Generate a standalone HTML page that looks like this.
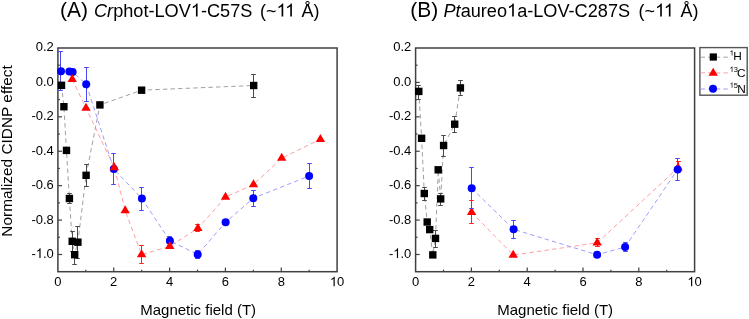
<!DOCTYPE html>
<html><head><meta charset="utf-8"><style>
html,body{margin:0;padding:0;background:#fff;}
svg{display:block;will-change:transform;}
text{font-family:"Liberation Sans", sans-serif;}
.o{fill-opacity:0;}
</style></head><body>
<svg width="749" height="319" viewBox="0 0 749 319" font-family='"Liberation Sans", sans-serif' fill="#000">
<rect width="749" height="319" fill="#fff"/>
<text y="16.9" font-size="21" x="60.00">(</text>
<text y="16.9" font-size="21" x="66.99" transform="translate(0 16.9) scale(1 1.035) translate(0 -16.9)">A</text>
<text y="16.9" font-size="21" x="81.00">)</text>
<text y="16.5" font-size="18.15" x="94.0"><tspan font-style="italic">Cr</tspan>phot-LOV<tspan class="o">1</tspan>-C57S</text>
<text y="16.5" font-size="18" x="260">(~<tspan class="o">11</tspan></text>
<text y="16.5" font-size="18" x="301.4">Å)</text>
<text y="16.9" font-size="21" x="410.20">(</text>
<text y="16.9" font-size="21" x="417.19" transform="translate(0 16.9) scale(1 1.035) translate(0 -16.9)">B</text>
<text y="16.9" font-size="21" x="431.20">)</text>
<text y="16.5" font-size="18.15" x="443.5"><tspan font-style="italic">Pt</tspan>aureo<tspan class="o">1</tspan>a-LOV-C287S</text>
<text y="16.5" font-size="18" x="638.6">(~<tspan class="o">11</tspan></text>
<text y="16.5" font-size="18" x="680.4">Å)</text>
<text transform="translate(11.6,151.0) rotate(-90)" font-size="15.4" text-anchor="middle">Normalized CIDNP effect</text>
<text x="198.2" y="314.8" font-size="15" text-anchor="middle">Magnetic field (T)</text>
<text x="555.2" y="314.8" font-size="15" text-anchor="middle">Magnetic field (T)</text>
<rect x="57.9" y="48.0" width="279.20" height="223.70" fill="none" stroke="#404040" stroke-width="1.5"/>
<line x1="57.9" y1="65.21" x2="59.90" y2="65.21" stroke="#404040" stroke-width="1.2"/>
<line x1="57.9" y1="82.42" x2="62.00" y2="82.42" stroke="#404040" stroke-width="1.2"/>
<line x1="57.9" y1="99.62" x2="59.90" y2="99.62" stroke="#404040" stroke-width="1.2"/>
<line x1="57.9" y1="116.83" x2="62.00" y2="116.83" stroke="#404040" stroke-width="1.2"/>
<line x1="57.9" y1="134.04" x2="59.90" y2="134.04" stroke="#404040" stroke-width="1.2"/>
<line x1="57.9" y1="151.25" x2="62.00" y2="151.25" stroke="#404040" stroke-width="1.2"/>
<line x1="57.9" y1="168.45" x2="59.90" y2="168.45" stroke="#404040" stroke-width="1.2"/>
<line x1="57.9" y1="185.66" x2="62.00" y2="185.66" stroke="#404040" stroke-width="1.2"/>
<line x1="57.9" y1="202.87" x2="59.90" y2="202.87" stroke="#404040" stroke-width="1.2"/>
<line x1="57.9" y1="220.08" x2="62.00" y2="220.08" stroke="#404040" stroke-width="1.2"/>
<line x1="57.9" y1="237.28" x2="59.90" y2="237.28" stroke="#404040" stroke-width="1.2"/>
<line x1="57.9" y1="254.49" x2="62.00" y2="254.49" stroke="#404040" stroke-width="1.2"/>
<text x="53.8" y="51.50" font-size="13" text-anchor="end" transform="translate(0 51.50) scale(1 1.035) translate(0 -51.50)">0.2</text>
<text x="53.8" y="85.92" font-size="13" text-anchor="end" transform="translate(0 85.92) scale(1 1.035) translate(0 -85.92)">0.0</text>
<text x="53.8" y="120.33" font-size="13" text-anchor="end" transform="translate(0 120.33) scale(1 1.035) translate(0 -120.33)">-0.2</text>
<text x="53.8" y="154.75" font-size="13" text-anchor="end" transform="translate(0 154.75) scale(1 1.035) translate(0 -154.75)">-0.4</text>
<text x="53.8" y="189.16" font-size="13" text-anchor="end" transform="translate(0 189.16) scale(1 1.035) translate(0 -189.16)">-0.6</text>
<text x="53.8" y="223.58" font-size="13" text-anchor="end" transform="translate(0 223.58) scale(1 1.035) translate(0 -223.58)">-0.8</text>
<text x="53.8" y="257.99" font-size="13" text-anchor="end" transform="translate(0 257.99) scale(1 1.035) translate(0 -257.99)">-<tspan class="o">1</tspan>.0</text>
<line x1="85.82" y1="271.7" x2="85.82" y2="269.70" stroke="#404040" stroke-width="1.2"/>
<line x1="113.74" y1="271.7" x2="113.74" y2="267.60" stroke="#404040" stroke-width="1.2"/>
<line x1="141.66" y1="271.7" x2="141.66" y2="269.70" stroke="#404040" stroke-width="1.2"/>
<line x1="169.58" y1="271.7" x2="169.58" y2="267.60" stroke="#404040" stroke-width="1.2"/>
<line x1="197.50" y1="271.7" x2="197.50" y2="269.70" stroke="#404040" stroke-width="1.2"/>
<line x1="225.42" y1="271.7" x2="225.42" y2="267.60" stroke="#404040" stroke-width="1.2"/>
<line x1="253.34" y1="271.7" x2="253.34" y2="269.70" stroke="#404040" stroke-width="1.2"/>
<line x1="281.26" y1="271.7" x2="281.26" y2="267.60" stroke="#404040" stroke-width="1.2"/>
<line x1="309.18" y1="271.7" x2="309.18" y2="269.70" stroke="#404040" stroke-width="1.2"/>
<text x="57.90" y="286.3" font-size="13" text-anchor="middle" transform="translate(0 286.3) scale(1 1.035) translate(0 -286.3)">0</text>
<text x="113.74" y="286.3" font-size="13" text-anchor="middle" transform="translate(0 286.3) scale(1 1.035) translate(0 -286.3)">2</text>
<text x="169.58" y="286.3" font-size="13" text-anchor="middle" transform="translate(0 286.3) scale(1 1.035) translate(0 -286.3)">4</text>
<text x="225.42" y="286.3" font-size="13" text-anchor="middle" transform="translate(0 286.3) scale(1 1.035) translate(0 -286.3)">6</text>
<text x="281.26" y="286.3" font-size="13" text-anchor="middle" transform="translate(0 286.3) scale(1 1.035) translate(0 -286.3)">8</text>
<text x="337.10" y="286.3" font-size="13" text-anchor="middle" transform="translate(0 286.3) scale(1 1.035) translate(0 -286.3)"><tspan class="o">1</tspan>0</text>
<rect x="415.6" y="48.0" width="279.00" height="223.70" fill="none" stroke="#404040" stroke-width="1.5"/>
<line x1="415.6" y1="65.21" x2="417.60" y2="65.21" stroke="#404040" stroke-width="1.2"/>
<line x1="415.6" y1="82.42" x2="419.70" y2="82.42" stroke="#404040" stroke-width="1.2"/>
<line x1="415.6" y1="99.62" x2="417.60" y2="99.62" stroke="#404040" stroke-width="1.2"/>
<line x1="415.6" y1="116.83" x2="419.70" y2="116.83" stroke="#404040" stroke-width="1.2"/>
<line x1="415.6" y1="134.04" x2="417.60" y2="134.04" stroke="#404040" stroke-width="1.2"/>
<line x1="415.6" y1="151.25" x2="419.70" y2="151.25" stroke="#404040" stroke-width="1.2"/>
<line x1="415.6" y1="168.45" x2="417.60" y2="168.45" stroke="#404040" stroke-width="1.2"/>
<line x1="415.6" y1="185.66" x2="419.70" y2="185.66" stroke="#404040" stroke-width="1.2"/>
<line x1="415.6" y1="202.87" x2="417.60" y2="202.87" stroke="#404040" stroke-width="1.2"/>
<line x1="415.6" y1="220.08" x2="419.70" y2="220.08" stroke="#404040" stroke-width="1.2"/>
<line x1="415.6" y1="237.28" x2="417.60" y2="237.28" stroke="#404040" stroke-width="1.2"/>
<line x1="415.6" y1="254.49" x2="419.70" y2="254.49" stroke="#404040" stroke-width="1.2"/>
<text x="411.3" y="51.50" font-size="13" text-anchor="end" transform="translate(0 51.50) scale(1 1.035) translate(0 -51.50)">0.2</text>
<text x="411.3" y="85.92" font-size="13" text-anchor="end" transform="translate(0 85.92) scale(1 1.035) translate(0 -85.92)">0.0</text>
<text x="411.3" y="120.33" font-size="13" text-anchor="end" transform="translate(0 120.33) scale(1 1.035) translate(0 -120.33)">-0.2</text>
<text x="411.3" y="154.75" font-size="13" text-anchor="end" transform="translate(0 154.75) scale(1 1.035) translate(0 -154.75)">-0.4</text>
<text x="411.3" y="189.16" font-size="13" text-anchor="end" transform="translate(0 189.16) scale(1 1.035) translate(0 -189.16)">-0.6</text>
<text x="411.3" y="223.58" font-size="13" text-anchor="end" transform="translate(0 223.58) scale(1 1.035) translate(0 -223.58)">-0.8</text>
<text x="411.3" y="257.99" font-size="13" text-anchor="end" transform="translate(0 257.99) scale(1 1.035) translate(0 -257.99)">-<tspan class="o">1</tspan>.0</text>
<line x1="443.50" y1="271.7" x2="443.50" y2="269.70" stroke="#404040" stroke-width="1.2"/>
<line x1="471.40" y1="271.7" x2="471.40" y2="267.60" stroke="#404040" stroke-width="1.2"/>
<line x1="499.30" y1="271.7" x2="499.30" y2="269.70" stroke="#404040" stroke-width="1.2"/>
<line x1="527.20" y1="271.7" x2="527.20" y2="267.60" stroke="#404040" stroke-width="1.2"/>
<line x1="555.10" y1="271.7" x2="555.10" y2="269.70" stroke="#404040" stroke-width="1.2"/>
<line x1="583.00" y1="271.7" x2="583.00" y2="267.60" stroke="#404040" stroke-width="1.2"/>
<line x1="610.90" y1="271.7" x2="610.90" y2="269.70" stroke="#404040" stroke-width="1.2"/>
<line x1="638.80" y1="271.7" x2="638.80" y2="267.60" stroke="#404040" stroke-width="1.2"/>
<line x1="666.70" y1="271.7" x2="666.70" y2="269.70" stroke="#404040" stroke-width="1.2"/>
<text x="415.60" y="286.3" font-size="13" text-anchor="middle" transform="translate(0 286.3) scale(1 1.035) translate(0 -286.3)">0</text>
<text x="471.40" y="286.3" font-size="13" text-anchor="middle" transform="translate(0 286.3) scale(1 1.035) translate(0 -286.3)">2</text>
<text x="527.20" y="286.3" font-size="13" text-anchor="middle" transform="translate(0 286.3) scale(1 1.035) translate(0 -286.3)">4</text>
<text x="583.00" y="286.3" font-size="13" text-anchor="middle" transform="translate(0 286.3) scale(1 1.035) translate(0 -286.3)">6</text>
<text x="638.80" y="286.3" font-size="13" text-anchor="middle" transform="translate(0 286.3) scale(1 1.035) translate(0 -286.3)">8</text>
<text x="694.60" y="286.3" font-size="13" text-anchor="middle" transform="translate(0 286.3) scale(1 1.035) translate(0 -286.3)"><tspan class="o">1</tspan>0</text>
<polyline points="61.50,85.30 63.90,106.70 66.50,150.40 69.40,198.50 72.20,241.30 74.70,254.70 77.90,242.20 86.10,175.30 99.90,104.90 141.60,90.20 253.70,85.50" fill="none" stroke="#a0a0a0" stroke-width="1" stroke-dasharray="4.4 3.2"/>
<polyline points="72.20,79.30 86.00,108.00 114.30,167.50 125.20,210.50 141.60,254.50 169.80,246.40 197.90,228.30 225.50,197.20 253.50,184.50 281.70,158.20 320.40,139.30" fill="none" stroke="#ff9e9e" stroke-width="1" stroke-dasharray="4.4 3.2"/>
<polyline points="61.00,71.30 69.40,71.50 72.60,72.00 86.20,84.20 113.80,169.00 141.90,198.60 169.90,240.80 197.70,254.40 225.60,222.30 253.30,198.20 309.10,176.00" fill="none" stroke="#9e9eff" stroke-width="1" stroke-dasharray="4.4 3.2"/>
<path d="M60.5 51.5V90.5M58.20 51.5H62.80M58.20 90.5H62.80" stroke="#4848f4" stroke-width="1.0" fill="none"/>
<path d="M86.5 67.5V101.5M84.20 67.5H88.80M84.20 101.5H88.80" stroke="#4848f4" stroke-width="1.0" fill="none"/>
<path d="M113.5 153.5V184.5M111.20 153.5H115.80M111.20 184.5H115.80" stroke="#4848f4" stroke-width="1.0" fill="none"/>
<path d="M141.5 187.5V210.5M139.20 187.5H143.80M139.20 210.5H143.80" stroke="#4848f4" stroke-width="1.0" fill="none"/>
<path d="M169.5 236.5V245.5M167.20 236.5H171.80M167.20 245.5H171.80" stroke="#4848f4" stroke-width="1.0" fill="none"/>
<path d="M197.5 250.5V258.5M195.20 250.5H199.80M195.20 258.5H199.80" stroke="#4848f4" stroke-width="1.0" fill="none"/>
<path d="M253.5 190.5V206.5M251.20 190.5H255.80M251.20 206.5H255.80" stroke="#4848f4" stroke-width="1.0" fill="none"/>
<path d="M309.5 163.5V188.5M307.20 163.5H311.80M307.20 188.5H311.80" stroke="#4848f4" stroke-width="1.0" fill="none"/>
<circle cx="61.00" cy="71.30" r="4.0" fill="#0000ff"/>
<circle cx="69.40" cy="71.50" r="4.0" fill="#0000ff"/>
<circle cx="72.60" cy="72.00" r="4.0" fill="#0000ff"/>
<circle cx="86.20" cy="84.20" r="4.0" fill="#0000ff"/>
<circle cx="113.80" cy="169.00" r="4.0" fill="#0000ff"/>
<circle cx="141.90" cy="198.60" r="4.0" fill="#0000ff"/>
<circle cx="169.90" cy="240.80" r="4.0" fill="#0000ff"/>
<circle cx="197.70" cy="254.40" r="4.0" fill="#0000ff"/>
<circle cx="225.60" cy="222.30" r="4.0" fill="#0000ff"/>
<circle cx="253.30" cy="198.20" r="4.0" fill="#0000ff"/>
<circle cx="309.10" cy="176.00" r="4.0" fill="#0000ff"/>
<path d="M69.5 193.5V203.5M67.20 193.5H71.80M67.20 203.5H71.80" stroke="#4a4a4a" stroke-width="1.0" fill="none"/>
<path d="M72.5 231.5V251.5M70.20 231.5H74.80M70.20 251.5H74.80" stroke="#4a4a4a" stroke-width="1.0" fill="none"/>
<path d="M74.5 251.5V264.5M72.20 251.5H76.80M72.20 264.5H76.80" stroke="#4a4a4a" stroke-width="1.0" fill="none"/>
<path d="M77.5 226.5V258.5M75.20 226.5H79.80M75.20 258.5H79.80" stroke="#4a4a4a" stroke-width="1.0" fill="none"/>
<path d="M86.5 164.5V186.5M84.20 164.5H88.80M84.20 186.5H88.80" stroke="#4a4a4a" stroke-width="1.0" fill="none"/>
<path d="M253.5 74.5V97.5M251.20 74.5H255.80M251.20 97.5H255.80" stroke="#4a4a4a" stroke-width="1.0" fill="none"/>
<rect x="57.80" y="81.60" width="7.4" height="7.4" fill="#000"/>
<rect x="60.20" y="103.00" width="7.4" height="7.4" fill="#000"/>
<rect x="62.80" y="146.70" width="7.4" height="7.4" fill="#000"/>
<rect x="65.70" y="194.80" width="7.4" height="7.4" fill="#000"/>
<rect x="68.50" y="237.60" width="7.4" height="7.4" fill="#000"/>
<rect x="71.00" y="251.00" width="7.4" height="7.4" fill="#000"/>
<rect x="74.20" y="238.50" width="7.4" height="7.4" fill="#000"/>
<rect x="82.40" y="171.60" width="7.4" height="7.4" fill="#000"/>
<rect x="96.20" y="101.20" width="7.4" height="7.4" fill="#000"/>
<rect x="137.90" y="86.50" width="7.4" height="7.4" fill="#000"/>
<rect x="250.00" y="81.80" width="7.4" height="7.4" fill="#000"/>
<path d="M141.5 245.5V263.5M139.20 245.5H143.80M139.20 263.5H143.80" stroke="#ff2020" stroke-width="1.0" fill="none"/>
<path d="M197.5 224.5V231.5M195.20 224.5H199.80M195.20 231.5H199.80" stroke="#ff2020" stroke-width="1.0" fill="none"/>
<polygon points="72.20,73.97 67.50,81.97 76.90,81.97" fill="#ff0000"/>
<polygon points="86.00,102.67 81.30,110.67 90.70,110.67" fill="#ff0000"/>
<polygon points="114.30,162.17 109.60,170.17 119.00,170.17" fill="#ff0000"/>
<polygon points="125.20,205.17 120.50,213.17 129.90,213.17" fill="#ff0000"/>
<polygon points="141.60,249.17 136.90,257.17 146.30,257.17" fill="#ff0000"/>
<polygon points="169.80,241.07 165.10,249.07 174.50,249.07" fill="#ff0000"/>
<polygon points="197.90,222.97 193.20,230.97 202.60,230.97" fill="#ff0000"/>
<polygon points="225.50,191.87 220.80,199.87 230.20,199.87" fill="#ff0000"/>
<polygon points="253.50,179.17 248.80,187.17 258.20,187.17" fill="#ff0000"/>
<polygon points="281.70,152.87 277.00,160.87 286.40,160.87" fill="#ff0000"/>
<polygon points="320.40,133.97 315.70,141.97 325.10,141.97" fill="#ff0000"/>
<polyline points="418.80,91.40 421.60,138.30 424.30,193.50 427.20,222.00 429.70,229.60 432.80,254.90 435.50,238.40 438.20,169.80 440.70,198.90 443.60,145.50 454.70,124.20 460.40,87.90" fill="none" stroke="#a0a0a0" stroke-width="1" stroke-dasharray="4.4 3.2"/>
<polyline points="471.60,212.30 513.20,255.00 597.20,242.80 678.00,167.90" fill="none" stroke="#ff9e9e" stroke-width="1" stroke-dasharray="4.4 3.2"/>
<polyline points="471.70,188.30 513.60,229.30 597.10,254.80 625.10,247.00 677.70,169.40" fill="none" stroke="#9e9eff" stroke-width="1" stroke-dasharray="4.4 3.2"/>
<path d="M418.5 85.5V99.5M416.20 85.5H420.80M416.20 99.5H420.80" stroke="#4a4a4a" stroke-width="1.0" fill="none"/>
<path d="M424.5 187.5V200.5M422.20 187.5H426.80M422.20 200.5H426.80" stroke="#4a4a4a" stroke-width="1.0" fill="none"/>
<path d="M435.5 230.5V247.5M433.20 230.5H437.80M433.20 247.5H437.80" stroke="#4a4a4a" stroke-width="1.0" fill="none"/>
<path d="M440.5 193.5V205.5M438.20 193.5H442.80M438.20 205.5H442.80" stroke="#4a4a4a" stroke-width="1.0" fill="none"/>
<path d="M443.5 135.5V156.5M441.20 135.5H445.80M441.20 156.5H445.80" stroke="#4a4a4a" stroke-width="1.0" fill="none"/>
<path d="M454.5 116.5V132.5M452.20 116.5H456.80M452.20 132.5H456.80" stroke="#4a4a4a" stroke-width="1.0" fill="none"/>
<path d="M460.5 80.5V95.5M458.20 80.5H462.80M458.20 95.5H462.80" stroke="#4a4a4a" stroke-width="1.0" fill="none"/>
<rect x="415.10" y="87.70" width="7.4" height="7.4" fill="#000"/>
<rect x="417.90" y="134.60" width="7.4" height="7.4" fill="#000"/>
<rect x="420.60" y="189.80" width="7.4" height="7.4" fill="#000"/>
<rect x="423.50" y="218.30" width="7.4" height="7.4" fill="#000"/>
<rect x="426.00" y="225.90" width="7.4" height="7.4" fill="#000"/>
<rect x="429.10" y="251.20" width="7.4" height="7.4" fill="#000"/>
<rect x="431.80" y="234.70" width="7.4" height="7.4" fill="#000"/>
<rect x="434.50" y="166.10" width="7.4" height="7.4" fill="#000"/>
<rect x="437.00" y="195.20" width="7.4" height="7.4" fill="#000"/>
<rect x="439.90" y="141.80" width="7.4" height="7.4" fill="#000"/>
<rect x="451.00" y="120.50" width="7.4" height="7.4" fill="#000"/>
<rect x="456.70" y="84.20" width="7.4" height="7.4" fill="#000"/>
<path d="M471.5 200.5V223.5M469.20 200.5H473.80M469.20 223.5H473.80" stroke="#ff2020" stroke-width="1.0" fill="none"/>
<path d="M597.5 238.5V246.5M595.20 238.5H599.80M595.20 246.5H599.80" stroke="#ff2020" stroke-width="1.0" fill="none"/>
<path d="M678.5 161.5V170.5M676.20 161.5H680.80M676.20 170.5H680.80" stroke="#ff2020" stroke-width="1.0" fill="none"/>
<polygon points="471.60,206.97 466.90,214.97 476.30,214.97" fill="#ff0000"/>
<polygon points="513.20,249.67 508.50,257.67 517.90,257.67" fill="#ff0000"/>
<polygon points="597.20,237.47 592.50,245.47 601.90,245.47" fill="#ff0000"/>
<polygon points="678.00,162.57 673.30,170.57 682.70,170.57" fill="#ff0000"/>
<path d="M471.5 167.5V208.5M469.20 167.5H473.80M469.20 208.5H473.80" stroke="#4848f4" stroke-width="1.0" fill="none"/>
<path d="M513.5 220.5V238.5M511.20 220.5H515.80M511.20 238.5H515.80" stroke="#4848f4" stroke-width="1.0" fill="none"/>
<path d="M625.5 242.5V251.5M623.20 242.5H627.80M623.20 251.5H627.80" stroke="#4848f4" stroke-width="1.0" fill="none"/>
<path d="M677.5 158.5V180.5M675.20 158.5H679.80M675.20 180.5H679.80" stroke="#4848f4" stroke-width="1.0" fill="none"/>
<circle cx="471.70" cy="188.30" r="4.0" fill="#0000ff"/>
<circle cx="513.60" cy="229.30" r="4.0" fill="#0000ff"/>
<circle cx="597.10" cy="254.80" r="4.0" fill="#0000ff"/>
<circle cx="625.10" cy="247.00" r="4.0" fill="#0000ff"/>
<circle cx="677.70" cy="169.40" r="4.0" fill="#0000ff"/>
<rect x="699.9" y="47.6" width="47.3" height="47.6" fill="#fff" stroke="#555" stroke-width="1.4"/>
<line x1="700.6" y1="57.2" x2="728" y2="57.2" stroke="#a0a0a0" stroke-width="1" stroke-dasharray="4.4 3.2"/>
<line x1="700.6" y1="72.9" x2="728" y2="72.9" stroke="#ff9e9e" stroke-width="1" stroke-dasharray="4.4 3.2"/>
<line x1="700.6" y1="89.0" x2="728" y2="89.0" stroke="#9e9eff" stroke-width="1" stroke-dasharray="4.4 3.2"/>
<rect x="709.70" y="53.40" width="7.2" height="7.2" fill="#000"/>
<polygon points="713.20,67.87 708.50,75.87 717.90,75.87" fill="#ff0000"/>
<circle cx="713.00" cy="88.70" r="4.0" fill="#0000ff"/>
<text x="729.6" y="55.6" font-size="7.5"><tspan class="o">1</tspan></text><text x="733.2" y="60.4" font-size="11.8">H</text>
<text x="729.6" y="72.0" font-size="7.5"><tspan class="o">1</tspan>3</text><text x="736.9" y="76.6" font-size="11.8">C</text>
<text x="729.6" y="87.8" font-size="7.5"><tspan class="o">1</tspan>5</text><text x="737.2" y="92.5" font-size="11.8">N</text>
<path transform="matrix(0.00886 0.00000 0.00000 -0.00886 190.812 16.500)" d="M578 0L763 0L763 1472L643 1472C610 1405 555 1337 478 1268C400 1199 315 1150 223 1120L223 949C273 967 330 993 393 1027C457 1061 518 1103 578 1151Z"/>
<path transform="matrix(0.00879 0.00000 0.00000 -0.00879 276.516 16.500)" d="M578 0L763 0L763 1472L643 1472C610 1405 555 1337 478 1268C400 1199 315 1150 223 1120L223 949C273 967 330 993 393 1027C457 1061 518 1103 578 1151Z"/>
<path transform="matrix(0.00879 0.00000 0.00000 -0.00879 285.188 16.500)" d="M578 0L763 0L763 1472L643 1472C610 1405 555 1337 478 1268C400 1199 315 1150 223 1120L223 949C273 967 330 993 393 1027C457 1061 518 1103 578 1151Z"/>
<path transform="matrix(0.00886 0.00000 0.00000 -0.00886 507.047 16.500)" d="M578 0L763 0L763 1472L643 1472C610 1405 555 1337 478 1268C400 1199 315 1150 223 1120L223 949C273 967 330 993 393 1027C457 1061 518 1103 578 1151Z"/>
<path transform="matrix(0.00879 0.00000 0.00000 -0.00879 655.116 16.500)" d="M578 0L763 0L763 1472L643 1472C610 1405 555 1337 478 1268C400 1199 315 1150 223 1120L223 949C273 967 330 993 393 1027C457 1061 518 1103 578 1151Z"/>
<path transform="matrix(0.00879 0.00000 0.00000 -0.00879 663.787 16.500)" d="M578 0L763 0L763 1472L643 1472C610 1405 555 1337 478 1268C400 1199 315 1150 223 1120L223 949C273 967 330 993 393 1027C457 1061 518 1103 578 1151Z"/>
<path transform="matrix(0.00635 0.00000 0.00000 -0.00657 35.728 257.990)" d="M578 0L763 0L763 1472L643 1472C610 1405 555 1337 478 1268C400 1199 315 1150 223 1120L223 949C273 967 330 993 393 1027C457 1061 518 1103 578 1151Z"/>
<path transform="matrix(0.00635 0.00000 0.00000 -0.00657 329.868 286.300)" d="M578 0L763 0L763 1472L643 1472C610 1405 555 1337 478 1268C400 1199 315 1150 223 1120L223 949C273 967 330 993 393 1027C457 1061 518 1103 578 1151Z"/>
<path transform="matrix(0.00635 0.00000 0.00000 -0.00657 393.228 257.990)" d="M578 0L763 0L763 1472L643 1472C610 1405 555 1337 478 1268C400 1199 315 1150 223 1120L223 949C273 967 330 993 393 1027C457 1061 518 1103 578 1151Z"/>
<path transform="matrix(0.00635 0.00000 0.00000 -0.00657 687.368 286.300)" d="M578 0L763 0L763 1472L643 1472C610 1405 555 1337 478 1268C400 1199 315 1150 223 1120L223 949C273 967 330 993 393 1027C457 1061 518 1103 578 1151Z"/>
<path transform="matrix(0.00366 0.00000 0.00000 -0.00366 729.600 55.600)" d="M578 0L763 0L763 1472L643 1472C610 1405 555 1337 478 1268C400 1199 315 1150 223 1120L223 949C273 967 330 993 393 1027C457 1061 518 1103 578 1151Z"/>
<path transform="matrix(0.00366 0.00000 0.00000 -0.00366 729.600 72.000)" d="M578 0L763 0L763 1472L643 1472C610 1405 555 1337 478 1268C400 1199 315 1150 223 1120L223 949C273 967 330 993 393 1027C457 1061 518 1103 578 1151Z"/>
<path transform="matrix(0.00366 0.00000 0.00000 -0.00366 729.600 87.800)" d="M578 0L763 0L763 1472L643 1472C610 1405 555 1337 478 1268C400 1199 315 1150 223 1120L223 949C273 967 330 993 393 1027C457 1061 518 1103 578 1151Z"/>
</svg>
</body></html>
